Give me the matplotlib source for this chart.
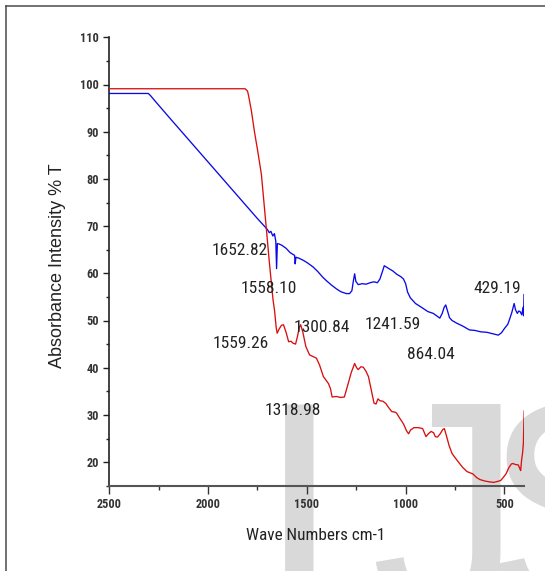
import matplotlib
matplotlib.use('Agg')
import matplotlib.pyplot as plt
from matplotlib.lines import Line2D
from matplotlib.ticker import MultipleLocator

# ---------------- data ----------------
blue_x = [2500, 2302, 2290, 2270, 2200, 2100, 2000, 1900, 1800, 1750, 1715, 1700, 1690, 1682,
          1672, 1664, 1657, 1653, 1649, 1640, 1625, 1605, 1585, 1570, 1562, 1559, 1555, 1540,
          1520, 1500, 1470, 1445, 1420, 1400, 1375, 1350, 1328, 1300, 1284, 1272, 1264, 1258,
          1252, 1240, 1220, 1200, 1180, 1160, 1143, 1130, 1118, 1108, 1100, 1085, 1065, 1045,
          1025, 1011, 1000, 990, 976, 950, 920, 888, 860, 840, 827, 815, 805, 797, 790, 778,
          765, 740, 710, 677, 650, 620, 589, 560, 531, 515, 500, 483, 472, 462, 451, 444, 435,
          428, 421, 412, 406, 403, 401]
blue_y = [98.1, 98.1, 97.6, 96.6, 93.2, 88.4, 83.6, 78.8, 74.0, 71.6, 70.0, 69.3, 68.6, 68.9,
          67.9, 68.4, 66.8, 61.0, 66.3, 66.2, 65.9, 65.3, 64.4, 64.0, 63.8, 62.0, 63.4, 63.2,
          62.8, 62.3, 61.4, 60.4, 59.2, 58.4, 57.5, 56.7, 56.1, 55.7, 55.7, 56.3, 58.5, 59.9,
          58.3, 57.6, 57.8, 57.7, 58.0, 58.2, 58.0, 58.8, 60.3, 61.6, 61.4, 61.0, 60.5, 59.8,
          59.3, 58.8, 57.8, 56.0, 54.8, 53.6, 52.8, 51.9, 51.5, 50.9, 50.5, 51.5, 52.8, 53.3,
          52.3, 50.6, 50.0, 49.4, 48.8, 48.0, 47.9, 47.6, 47.5, 47.2, 46.9, 47.4, 48.3, 49.2,
          50.5, 51.8, 53.6, 52.3, 51.5, 52.0, 51.9, 51.2, 52.8, 51.0, 55.5]

red_x = [2500, 1812, 1800, 1795, 1780, 1765, 1750, 1730, 1706, 1690, 1671, 1663, 1655, 1650,
         1640, 1628, 1618, 1605, 1592, 1580, 1570, 1557, 1548, 1538, 1531, 1520, 1505, 1486,
         1470, 1451, 1435, 1416, 1400, 1390, 1380, 1372, 1350, 1330, 1310, 1295, 1275, 1258,
         1248, 1240, 1226, 1214, 1200, 1188, 1175, 1160, 1150, 1140, 1130, 1115, 1100, 1085,
         1070, 1055, 1046, 1030, 1011, 995, 985, 975, 958, 935, 914, 905, 897, 885, 871, 858,
         850, 839, 825, 812, 804, 795, 780, 765, 740, 712, 690, 660, 640, 624, 600, 575, 554,
         535, 519, 505, 492, 478, 465, 457, 445, 430, 422, 418, 413, 408, 404, 402, 400]
red_y = [99.1, 99.1, 98.6, 97.7, 94.3, 90.0, 86.3, 81.0, 70.0, 62.5, 54.4, 52.0, 48.5, 47.3,
         48.2, 49.0, 49.1, 47.5, 45.5, 45.6, 45.2, 45.0, 46.5, 48.5, 49.1, 47.5, 44.5, 42.7,
         42.4, 42.0, 40.5, 38.1, 37.2, 36.6, 35.5, 33.8, 33.9, 33.7, 33.8, 36.0, 39.0, 40.9,
         40.0, 39.6, 40.2, 40.1, 39.2, 38.1, 35.5, 32.5, 32.3, 33.4, 33.0, 32.9, 32.4, 31.5,
         30.7, 30.6, 30.4, 29.3, 28.1, 26.6, 26.0, 26.8, 27.3, 27.3, 27.1, 26.2, 25.4, 26.0,
         26.5, 26.2, 25.4, 25.3, 26.0, 26.9, 27.1, 25.8, 23.5, 21.8, 20.4, 18.9, 18.0, 17.5,
         16.7, 16.3, 16.0, 15.8, 15.7, 15.9, 16.1, 16.8, 17.5, 18.8, 19.6, 19.7, 19.5, 19.4,
         18.6, 18.2, 20.5, 22.0, 24.1, 28.0, 30.8]

peak_labels = ['1652.82', '1558.10', '429.19', '1300.84', '1241.59', '1559.26', '864.04', '1318.98']
peak_label_x = [1842, 1691, 537, 1424, 1067, 1832, 870, 1572]
peak_label_y = [63.9, 55.75, 55.75, 47.6, 48.1, 44.2, 41.8, 30.0]

x_ticks = [2500, 2000, 1500, 1000, 500]
y_ticks = [20, 30, 40, 50, 60, 70, 80, 90, 100, 110]

x_label = 'Wave Numbers cm-1'
y_label = 'Absorbance Intensity % T'
watermark_letters = ['I', 'J', 'S']

# ---------------- layout ----------------
W, H = 545, 571
REG = ['Liberation Sans', 'DejaVu Sans']
NARROW = ['Roboto Condensed', 'Liberation Sans', 'DejaVu Sans']

fig = plt.figure(figsize=(W / 100, H / 100), dpi=100)
fig.patch.set_facecolor('white')

# watermark (behind everything)
wm_x = [257.0, 370.0, 482.0]
for letter, wx in zip(watermark_letters, wm_x):
    fig.text(wx / W, 1 - 614 / H, letter, fontsize=219, family=REG,
             color='#d9d9d9', ha='left', va='baseline', zorder=-10)

# frame lines of the picture
fig.add_artist(Line2D([6.3 / W, 6.3 / W], [0, 1 - 5.7 / H], transform=fig.transFigure,
                      color='#4a4a4a', lw=1.1))
fig.add_artist(Line2D([6.3 / W, 1.0], [1 - 5.7 / H, 1 - 5.7 / H], transform=fig.transFigure,
                      color='#4a4a4a', lw=1.1))

left, right, top, bottom = 109.2, 524.2, 37.3, 485.7
ax = fig.add_axes([left / W, 1 - bottom / H, (right - left) / W, (bottom - top) / H])
ax.set_facecolor('none')

ax.plot(blue_x, blue_y, color='#0a0ae6', lw=0.95, zorder=3)
ax.plot(red_x, red_y, color='#d90f0f', lw=0.95, zorder=3)

ax.set_xlim(2500, 400)
ax.set_ylim(15, 110)

for s in ['top', 'right']:
    ax.spines[s].set_visible(False)
ax.spines['left'].set_color('#222222')
ax.spines['left'].set_linewidth(1.2)
ax.spines['bottom'].set_color('#555555')
ax.spines['bottom'].set_linewidth(1.5)

ax.set_xticks(x_ticks)
ax.set_xticklabels([str(v) for v in x_ticks])
ax.set_yticks(y_ticks)
ax.set_yticklabels([str(v) for v in y_ticks])
ax.xaxis.set_minor_locator(MultipleLocator(250))
ax.yaxis.set_minor_locator(MultipleLocator(5))

ax.tick_params(axis='x', which='major', direction='out', length=6, width=1.0,
               color='#333333', pad=3.1, labelsize=8.8, labelcolor='#333333')
ax.tick_params(axis='x', which='minor', direction='out', length=2.8, width=1.0, color='#333333')
ax.tick_params(axis='y', which='major', direction='out', length=4.3, width=1.0,
               color='#222222', pad=3.1, labelsize=8.8, labelcolor='#333333')
ax.tick_params(axis='y', which='minor', direction='out', length=2.4, width=1.0, color='#222222')
for lab in ax.get_xticklabels() + ax.get_yticklabels():
    lab.set_family(NARROW)
    lab.set_weight('bold')

for txt, lx, ly in zip(peak_labels, peak_label_x, peak_label_y):
    ax.text(lx, ly, txt, family=NARROW, fontsize=12.5, color='#222222',
            ha='center', va='baseline', zorder=4)

fig.text(315.4 / W, 1 - 540 / H, x_label, family=NARROW, fontsize=12.3,
         color='#222222', ha='center', va='baseline')
fig.text(57.4 / W, 1 - 265.5 / H, y_label, family=REG, fontsize=13,
         color='#222222', ha='center', va='center', rotation=90)

fig.savefig('out.png', dpi=100, facecolor='white')
